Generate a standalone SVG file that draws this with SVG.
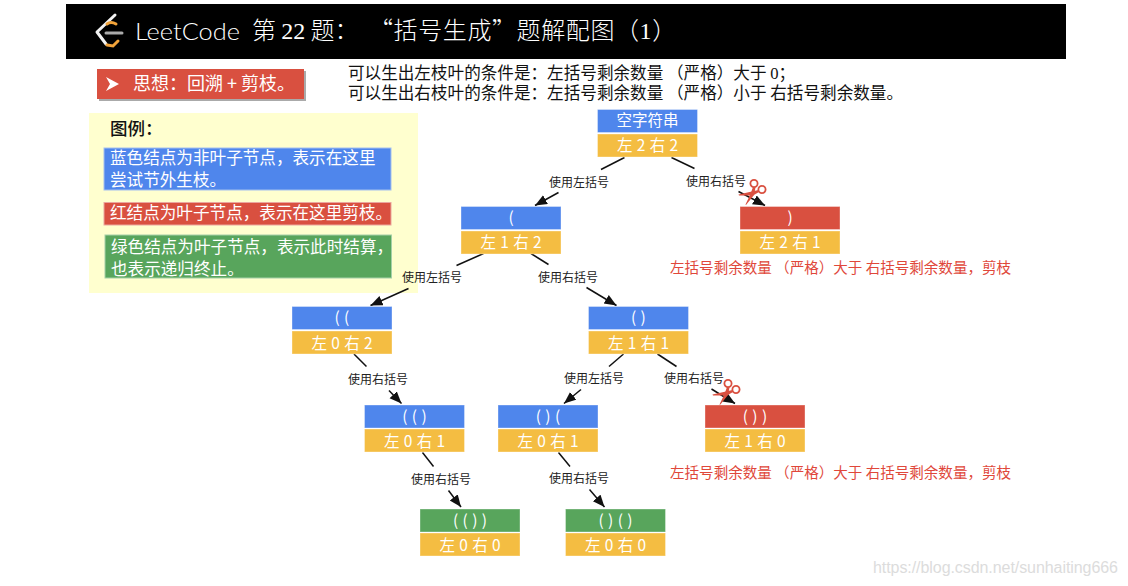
<svg xmlns="http://www.w3.org/2000/svg" width="1128" height="586" viewBox="0 0 1128 586">
<style>
text{font-family:"Noto Sans CJK SC","Noto Sans",sans-serif}
.b{fill:#4f86ec}.y{fill:#f4bd42}.r{fill:#d95040}.g{fill:#58a55c}
.n rect{stroke:#fff;stroke-opacity:.35;stroke-width:1}
.n text{fill:#fff;font-size:15.5px;font-weight:400;text-anchor:middle;word-spacing:.8px}
.lb{fill:#222;font-size:12px;text-anchor:middle}
.c line{stroke:#111;stroke-width:1.5}
.a{marker-end:url(#ah)}
.w{fill:#e0473a;font-size:14.55px}
.top{fill:#111;font-size:16.6px}
.lg{fill:#fff;font-size:16.6px}
.d{font-family:"Liberation Serif",serif}
.sc path{fill:#d95040}
.sc circle{fill:none;stroke:#d95040;stroke-width:1.8}
</style>
<defs>
<marker id="ah" markerUnits="userSpaceOnUse" markerWidth="13" markerHeight="11" refX="12" refY="5" orient="auto"><path d="M0 0L12 5L0 10Z" fill="#111"/></marker>
<g id="scissors" class="sc">
<path d="M0 -5L2.500 -4.500L1 3L-7 13L-7.500 12.500L-2.500 2Z"/>
<path d="M5.500 -2L6 0L0 3.500L-14 3.500L-14.500 2.500Z"/>
<circle cx="1" cy="-8.500" r="3.600"/><circle cx="9" cy="-2.500" r="3.600"/>
</g>
</defs>
<rect width="1128" height="586" fill="#fff"/>
<g id="header">
<rect x="66" y="4" width="1000" height="55" fill="#000"/>
<path d="M115 15L97 32L106 44" fill="none" stroke="#f2f2f2" stroke-width="3" stroke-linecap="round" stroke-linejoin="round"/>
<path d="M107 24Q111 21 116 24M107 45L113 46L118 41" fill="none" stroke="#f2a33a" stroke-width="3" stroke-linecap="round"/>
<path d="M106 33H122" stroke="#aaa" stroke-width="3" stroke-linecap="round"/>
<text x="135" y="40" fill="#fff" font-size="24" font-weight="300" style="font-family:Lato,'Noto Sans',sans-serif" textLength="105" lengthAdjust="spacingAndGlyphs">LeetCode</text>
<text x="252" y="39" fill="#fff" font-size="24" font-weight="300">第 <tspan class="d">22</tspan> 题：<tspan x="369" letter-spacing=".6">“括号生成”题解配图（<tspan class="d">1</tspan>）</tspan></text>
</g>
<g id="idea">
<rect x="99" y="71" width="207" height="30" fill="#aaa"/>
<rect x="97" y="69" width="207" height="30" class="r"/>
<path d="M106 77L119 84L106 91L110 84Z" fill="#fff"/>
<text x="133" y="90" fill="#fff" font-size="18">思想：回溯 + 剪枝。</text>
</g>
<g id="conditions">
<text x="348" y="79" class="top">可以生出左枝叶的条件是：左括号剩余数量 （严格）大于 <tspan class="d">0</tspan>；</text>
<text x="348" y="99" class="top">可以生出右枝叶的条件是：左括号剩余数量 （严格）小于 右括号剩余数量。</text>
</g>
<g id="legend">
<rect x="89" y="113" width="329" height="180" fill="#ffffcf"/>
<text x="110" y="135" fill="#111" font-size="17.500" font-weight="500">图例：</text>
<rect x="104" y="148" width="287" height="42" class="b" stroke="#a5c0ef" stroke-width="1"/>
<text x="110" y="164" class="lg">蓝色结点为非叶子节点，表示在这里</text>
<text x="110" y="186" class="lg">尝试节外生枝。</text>
<rect x="104" y="202.500" width="287" height="22.500" class="r" stroke="#eba79f" stroke-width="1"/>
<text x="110" y="219" class="lg">红结点为叶子节点，表示在这里剪枝。</text>
<rect x="105" y="235" width="286.500" height="43" class="g" stroke="#a5d0a8" stroke-width="1"/>
<text x="111" y="253" class="lg">绿色结点为叶子节点，表示此时结算，</text>
<text x="111" y="274.500" class="lg">也表示递归终止。</text>
</g>
<g id="connectors" class="c">
<line x1="624.500" y1="157.500" x2="601" y2="169.500"/><line class="a" x1="558.500" y1="192.500" x2="535" y2="205.500"/>
<line x1="671.500" y1="157.500" x2="694.500" y2="168.500"/><line class="a" x1="738.500" y1="191.500" x2="765" y2="205.500"/>
<line x1="483.500" y1="253.500" x2="456.500" y2="265.500"/><line class="a" x1="408.500" y1="288.500" x2="370.500" y2="305.500"/>
<line x1="531" y1="253.500" x2="548.500" y2="264.500"/><line class="a" x1="586.500" y1="287.500" x2="616.500" y2="305.500"/>
<line x1="354" y1="354" x2="366.500" y2="366.500"/><line class="a" x1="389" y1="390.500" x2="401.500" y2="403.500"/>
<line x1="623.500" y1="354" x2="609" y2="366.500"/><line class="a" x1="581" y1="389.500" x2="564" y2="403.500"/>
<line x1="657.500" y1="354" x2="676.500" y2="366.500"/><line class="a" x1="711.500" y1="389" x2="735" y2="403.500"/>
<line x1="422.500" y1="452.500" x2="433.500" y2="466.500"/><line class="a" x1="448.500" y1="490.500" x2="461" y2="507"/>
<line x1="558.500" y1="452.500" x2="570" y2="466.500"/><line class="a" x1="589.500" y1="489.500" x2="604.500" y2="507"/>
</g>
<g id="edge-labels">
<text x="579" y="187" class="lb">使用左括号</text>
<text x="716" y="186" class="lb">使用右括号</text>
<text x="432" y="282" class="lb">使用左括号</text>
<text x="568" y="282" class="lb">使用右括号</text>
<text x="378" y="384" class="lb">使用右括号</text>
<text x="594" y="383" class="lb">使用左括号</text>
<text x="694" y="383" class="lb">使用右括号</text>
<text x="441" y="484" class="lb">使用右括号</text>
<text x="579" y="483" class="lb">使用右括号</text>
</g>
<use href="#scissors" x="753" y="192"/>
<use href="#scissors" x="727" y="392"/>
<g id="n0" class="n"><rect x="597.500" y="109.500" width="100" height="23" class="b"/><rect x="597.500" y="134" width="100" height="23" class="y"/><text x="647.500" y="126">空字符串</text><text x="647.500" y="151">左 2 右 2</text></g>
<g id="n1" class="n"><rect x="461" y="206.500" width="100" height="23" class="b"/><rect x="461" y="231" width="100" height="23" class="y"/><text x="511" y="223">(</text><text x="511" y="248">左 1 右 2</text></g>
<g id="n2" class="n"><rect x="740" y="206.500" width="100" height="23" class="r"/><rect x="740" y="231" width="100" height="23" class="y"/><text x="790" y="223">)</text><text x="790" y="248">左 2 右 1</text></g>
<g id="n3" class="n"><rect x="292" y="306.500" width="100" height="23" class="b"/><rect x="292" y="331" width="100" height="23" class="y"/><text x="342" y="323">( (</text><text x="342" y="349">左 0 右 2</text></g>
<g id="n4" class="n"><rect x="588.500" y="306.500" width="100" height="23" class="b"/><rect x="588.500" y="331" width="100" height="23" class="y"/><text x="638.500" y="323">( )</text><text x="638.500" y="349">左 1 右 1</text></g>
<g id="n5" class="n"><rect x="364.500" y="405" width="100" height="23" class="b"/><rect x="364.500" y="429" width="100" height="23" class="y"/><text x="414.500" y="422">( ( )</text><text x="414.500" y="447">左 0 右 1</text></g>
<g id="n6" class="n"><rect x="498" y="405" width="100" height="23" class="b"/><rect x="498" y="429" width="100" height="23" class="y"/><text x="548" y="422">( ) (</text><text x="548" y="447">左 0 右 1</text></g>
<g id="n7" class="n"><rect x="705" y="405" width="100" height="23" class="r"/><rect x="705" y="429" width="100" height="23" class="y"/><text x="755" y="422">( ) )</text><text x="755" y="447">左 1 右 0</text></g>
<g id="n8" class="n"><rect x="420" y="509" width="100" height="23" class="g"/><rect x="420" y="533" width="100" height="23" class="y"/><text x="470" y="526">( ( ) )</text><text x="470" y="551">左 0 右 0</text></g>
<g id="n9" class="n"><rect x="565.500" y="509" width="100" height="23" class="g"/><rect x="565.500" y="533" width="100" height="23" class="y"/><text x="615.500" y="526">( ) ( )</text><text x="615.500" y="551">左 0 右 0</text></g>
<text x="670" y="273" class="w">左括号剩余数量 （严格）大于 右括号剩余数量，剪枝</text>
<text x="670" y="478" class="w">左括号剩余数量 （严格）大于 右括号剩余数量，剪枝</text>
<text x="873" y="573" fill="#dcdcdc" font-size="16" style="font-family:'Liberation Sans',sans-serif" textLength="245">https://blog.csdn.net/sunhaiting666</text>
</svg>
